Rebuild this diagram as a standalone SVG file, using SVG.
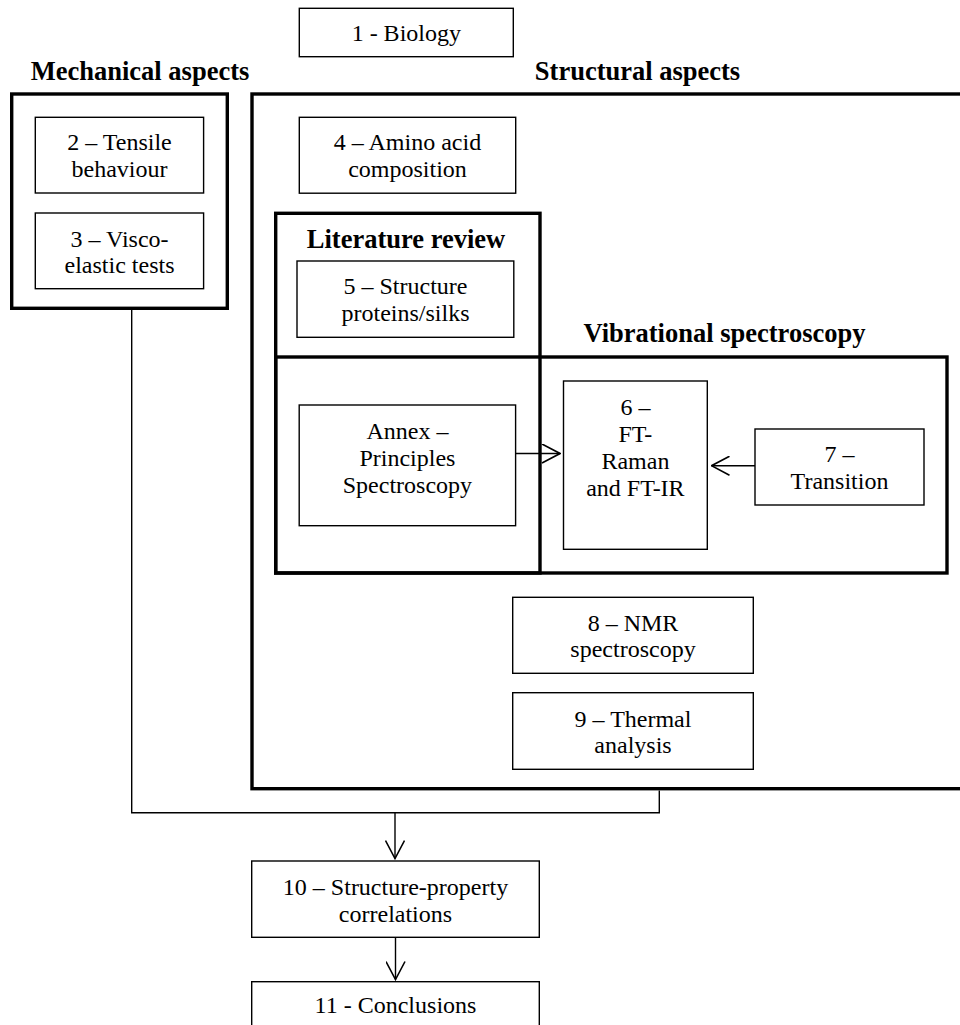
<svg xmlns="http://www.w3.org/2000/svg" width="960" height="1025" viewBox="0 0 960 1025">
<style>
  .box { fill: none; stroke: #000; stroke-width: 1.4; }
  .thick { fill: none; stroke: #000; stroke-width: 3.4; }
  .t { font-family: "Liberation Serif", "Times New Roman", serif; font-size: 24px; fill: #000; text-anchor: middle; }
  .h { font-family: "Liberation Serif", "Times New Roman", serif; font-size: 26.5px; font-weight: bold; fill: #000; text-anchor: middle; }
  .conn { fill: none; stroke: #000; stroke-width: 1.4; }
</style>
<defs>
  <marker id="chev" viewBox="0 0 20 20" refX="19" refY="10" markerWidth="20" markerHeight="20" markerUnits="userSpaceOnUse" orient="auto">
    <path d="M1,0.5 L19,10 L1,19.5" fill="none" stroke="#000" stroke-width="1.6"/>
  </marker>
</defs>
<rect width="960" height="1025" fill="#fff"/>

<g id="group-mechanical">
  <text class="h" x="140" y="80">Mechanical aspects</text>
  <rect class="thick" x="11.7" y="94" width="215.6" height="214.3"/>
</g>
<g id="group-structural">
  <text class="h" x="637.5" y="80">Structural aspects</text>
  <rect class="thick" x="252" y="94" width="730" height="694.7"/>
</g>
<g id="group-literature">
  <rect class="thick" x="275.7" y="213.3" width="264.3" height="359.7"/>
  <text class="h" x="406" y="248.3">Literature review</text>
</g>
<g id="group-vibrational">
  <rect class="thick" x="275.7" y="357" width="671.3" height="216"/>
  <text class="h" x="724.5" y="342">Vibrational spectroscopy</text>
</g>

<g id="n1">
  <rect class="box" x="299.3" y="8.3" width="214" height="48.4"/>
  <text class="t" x="406.3" y="41">1 - Biology</text>
</g>
<g id="n2">
  <rect class="box" x="35.3" y="117.3" width="168.3" height="75.7"/>
  <text class="t" x="119.5" y="150">2 – Tensile</text>
  <text class="t" x="119.5" y="176.7">behaviour</text>
</g>
<g id="n3">
  <rect class="box" x="35.3" y="213" width="168.3" height="75.7"/>
  <text class="t" x="119.5" y="246.7">3 – Visco-</text>
  <text class="t" x="119.5" y="273.3">elastic tests</text>
</g>
<g id="n4">
  <rect class="box" x="299.3" y="117.3" width="216.4" height="75.9"/>
  <text class="t" x="407.5" y="150">4 – Amino acid</text>
  <text class="t" x="407.5" y="177.3">composition</text>
</g>
<g id="n5">
  <rect class="box" x="297" y="261" width="216.8" height="76.3"/>
  <text class="t" x="405.5" y="294">5 – Structure</text>
  <text class="t" x="405.5" y="321">proteins/silks</text>
</g>
<g id="annex">
  <rect class="box" x="299.2" y="405" width="216.4" height="120.7"/>
  <text class="t" x="407.4" y="438.5">Annex –</text>
  <text class="t" x="407.4" y="466">Principles</text>
  <text class="t" x="407.4" y="493.3">Spectroscopy</text>
</g>
<g id="n6">
  <rect class="box" x="563.5" y="381" width="143.8" height="168.3"/>
  <text class="t" x="635.4" y="415">6 –</text>
  <text class="t" x="635.4" y="441.7">FT-</text>
  <text class="t" x="635.4" y="468.5">Raman</text>
  <text class="t" x="635.4" y="496">and FT-IR</text>
</g>
<g id="n7">
  <rect class="box" x="755" y="429" width="169" height="76"/>
  <text class="t" x="839.5" y="461.7">7 –</text>
  <text class="t" x="839.5" y="489">Transition</text>
</g>
<g id="n8">
  <rect class="box" x="512.7" y="597.3" width="240.6" height="76"/>
  <text class="t" x="633" y="630.7">8 – NMR</text>
  <text class="t" x="633" y="657.3">spectroscopy</text>
</g>
<g id="n9">
  <rect class="box" x="512.7" y="692.7" width="240.6" height="76.6"/>
  <text class="t" x="633" y="726.7">9 – Thermal</text>
  <text class="t" x="633" y="752.7">analysis</text>
</g>
<g id="n10">
  <rect class="box" x="251.7" y="861" width="287.6" height="76.3"/>
  <text class="t" x="395.5" y="895">10 – Structure-property</text>
  <text class="t" x="395.5" y="921.7">correlations</text>
</g>
<g id="n11">
  <rect class="box" x="251.7" y="981.7" width="287.6" height="60"/>
  <text class="t" x="395.5" y="1013.3">11 - Conclusions</text>
</g>

<g id="connectors">
  <path class="conn" d="M131.7,310 V812.7 H659.3 V790.5"/>
  <path class="conn" d="M395,812.7 V858.5" marker-end="url(#chev)"/>
  <path class="conn" d="M395.5,937.3 V979.5" marker-end="url(#chev)"/>
  <path class="conn" d="M515.6,453.5 H560" marker-end="url(#chev)"/>
  <path class="conn" d="M755,465.7 H711.5" marker-end="url(#chev)"/>
</g>
</svg>
